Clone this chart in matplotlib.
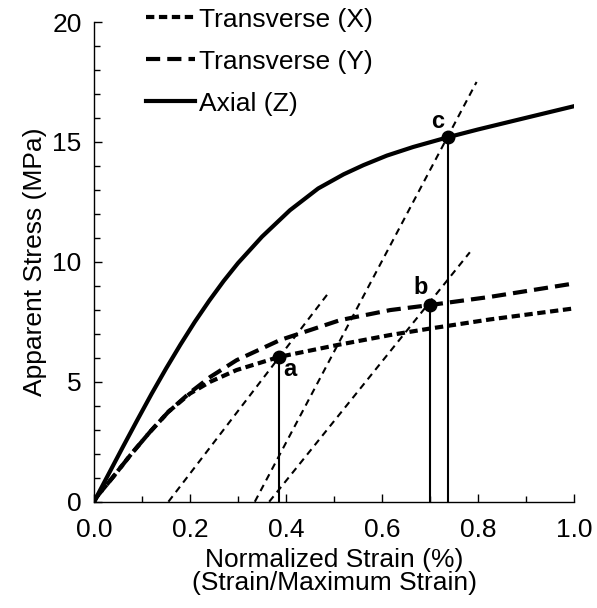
import matplotlib
matplotlib.use("Agg")
import matplotlib.pyplot as plt
from matplotlib.ticker import MultipleLocator, FormatStrFormatter

plt.rcParams['font.family'] = ['Liberation Sans', 'DejaVu Sans']

# Transverse (X)
x_strain = [0, 0.006, 0.04, 0.078, 0.117, 0.155, 0.2, 0.242, 0.297, 0.386, 0.506, 0.617, 0.70, 0.825, 1.0]
x_stress = [0, 0.21, 1.04, 2.0, 2.92, 3.75, 4.51, 5.0, 5.49, 6.04, 6.53, 6.95, 7.22, 7.6, 8.06]
# Transverse (Y)
y_strain = [0, 0.006, 0.04, 0.078, 0.117, 0.155, 0.2, 0.242, 0.297, 0.3875, 0.5125, 0.617, 0.70, 0.825, 1.0]
y_stress = [0, 0.21, 1.04, 2.0, 2.92, 3.75, 4.55, 5.2, 5.9, 6.74, 7.57, 7.99, 8.2, 8.54, 9.1]
# Axial (Z)
z_strain = [0, 0.03, 0.06, 0.09, 0.12, 0.15, 0.18, 0.21, 0.24, 0.27, 0.30, 0.35, 0.408,
            0.467, 0.52, 0.561, 0.61, 0.665, 0.738, 0.80, 0.874, 0.94, 1.0]
z_stress = [0, 1.14, 2.28, 3.4, 4.5, 5.55, 6.55, 7.5, 8.38, 9.2, 9.95, 11.05, 12.15,
            13.06, 13.65, 14.03, 14.43, 14.79, 15.2, 15.52, 15.88, 16.2, 16.49]

# Yield points a, b, c
pt_labels = ['a', 'b', 'c']
pt_strain = [0.386, 0.70, 0.738]
pt_stress = [6.04, 8.2, 15.2]
label_strain = [0.408, 0.681, 0.717]
label_stress = [5.53, 8.93, 15.85]

# Offset lines: start strain (stress 0) and end point
off_start = [0.155, 0.365, 0.335]
off_end_strain = [0.486, 0.783, 0.797]
off_end_stress = [8.64, 10.4, 17.5]

legend_labels = ['Transverse (X)', 'Transverse (Y)', 'Axial (Z)']

fig = plt.figure(figsize=(5.97, 6.08), dpi=100)
ax = fig.add_axes([0.1575, 0.1748, 0.804, 0.789])

# offset lines
for s, ex, ey in zip(off_start, off_end_strain, off_end_stress):
    ax.plot([s, ex], [0, ey], color='black', lw=1.5, dashes=(3.3, 2.5), solid_capstyle='butt')

# vertical lines
for px, py in zip(pt_strain, pt_stress):
    ax.plot([px, px], [0, py], color='black', lw=1.5)

lx, = ax.plot(x_strain, x_stress, color='black', lw=3, dashes=(2.0, 1.1), label=legend_labels[0])
ly, = ax.plot(y_strain, y_stress, color='black', lw=3, dashes=(3.4, 1.7), label=legend_labels[1])
lz, = ax.plot(z_strain, z_stress, color='black', lw=3, label=legend_labels[2])

ax.plot(pt_strain, pt_stress, 'o', color='black', ms=9, zorder=5)
for t, tx, ty in zip(pt_labels, label_strain, label_stress):
    ax.text(tx, ty, t, fontsize=17, fontweight='bold', ha='center', va='center')

ax.set_xlim(0, 1.0)
ax.set_ylim(0, 20)
ax.spines['top'].set_visible(False)
ax.spines['right'].set_visible(False)
ax.spines['left'].set_linewidth(1.0)
ax.spines['bottom'].set_linewidth(1.0)
ax.xaxis.set_major_locator(MultipleLocator(0.2))
ax.xaxis.set_minor_locator(MultipleLocator(0.1))
ax.xaxis.set_major_formatter(FormatStrFormatter('%.1f'))
ax.yaxis.set_major_locator(MultipleLocator(5))
ax.yaxis.set_minor_locator(MultipleLocator(1))
ax.tick_params(which='both', direction='in', labelsize=19, width=1.0)
ax.tick_params(which='major', length=6)
ax.tick_params(which='minor', length=4)
ax.tick_params(axis='x', pad=12)
ax.tick_params(axis='y', pad=9)

ax.set_xlabel('Normalized Strain (%)\n(Strain/Maximum Strain)', fontsize=19, linespacing=0.95, labelpad=4)
ax.set_ylabel('Apparent Stress (MPa)', fontsize=19, labelpad=4)

leg = ax.legend(handles=[lx, ly, lz], loc='upper left', bbox_to_anchor=(0.108, 1.03),
                frameon=False, fontsize=19, handlelength=1.85, handletextpad=0.15,
                labelspacing=0.68, borderpad=0, borderaxespad=0)

fig.savefig('out.png', dpi=100)
